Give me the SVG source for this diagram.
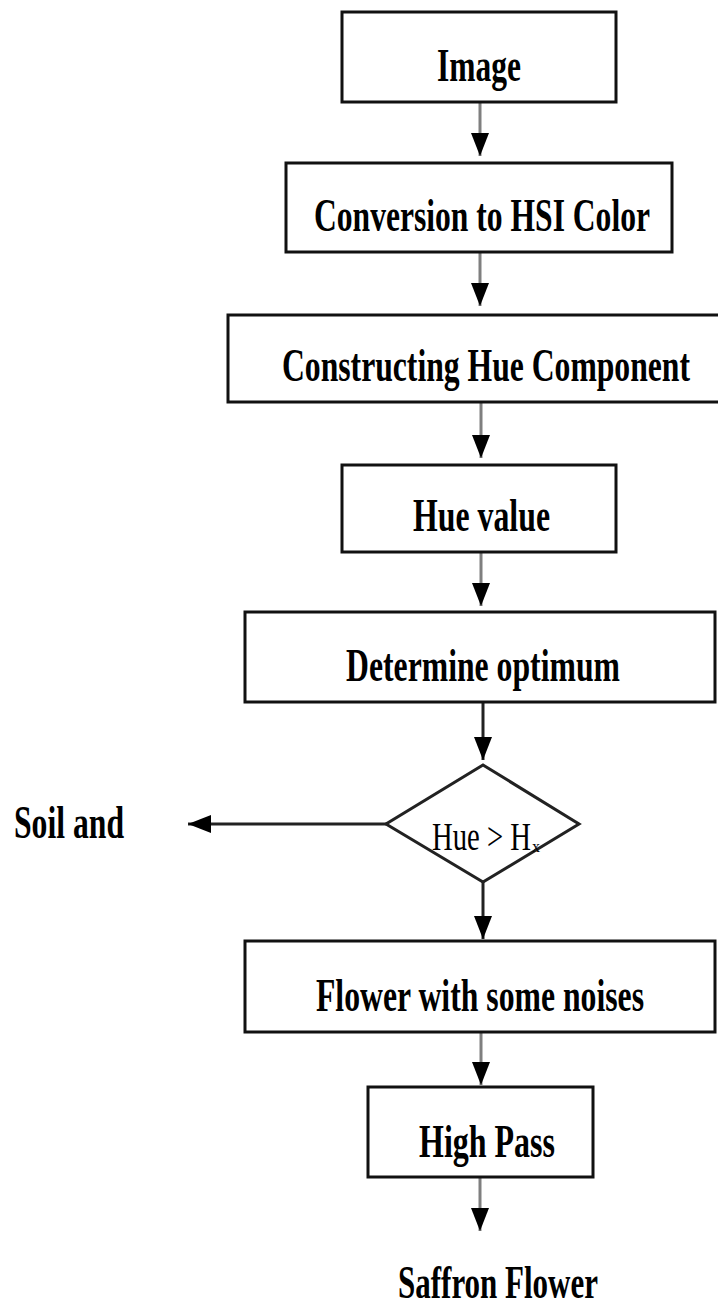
<svg xmlns="http://www.w3.org/2000/svg" width="718" height="1306" viewBox="0 0 718 1306">
<style>
.box{fill:#fff;stroke:#111;stroke-width:3}
.lbl{font-family:"Liberation Serif",serif;font-weight:bold;font-size:46px;fill:#000}
.dl{font-family:"Liberation Serif",serif;font-size:40px;fill:#000}
.c{fill:none;stroke:#7f7f7f;stroke-width:3}
.cb{fill:none;stroke:#222;stroke-width:3}
</style>
<defs>
<marker id="ah" markerUnits="userSpaceOnUse" markerWidth="24" markerHeight="20" refX="23" refY="9" orient="auto">
<path d="M0,0 L23,9 L0,18 z" fill="#000"/>
</marker>
</defs>
<rect width="718" height="1306" fill="#fff"/>
<g id="connectors">
<line class="c" x1="480" y1="102" x2="480" y2="156" marker-end="url(#ah)"/>
<line class="c" x1="480" y1="252" x2="480" y2="306" marker-end="url(#ah)"/>
<line class="c" x1="481" y1="402" x2="481" y2="458" marker-end="url(#ah)"/>
<line class="c" x1="481" y1="552" x2="481" y2="606" marker-end="url(#ah)"/>
<line class="cb" x1="483" y1="702" x2="483" y2="760" marker-end="url(#ah)"/>
<line class="cb" x1="483" y1="882" x2="483" y2="939" marker-end="url(#ah)"/>
<line class="c" x1="481" y1="1032" x2="481" y2="1085" marker-end="url(#ah)"/>
<line class="c" x1="480" y1="1178" x2="480" y2="1231" marker-end="url(#ah)"/>
<line class="cb" x1="386" y1="824" x2="188" y2="824" marker-end="url(#ah)"/>
</g>
<g id="n1"><rect class="box" x="342" y="12" width="274" height="90"/><text class="lbl" x="437" y="81" textLength="84" lengthAdjust="spacingAndGlyphs">Image</text></g>
<g id="n2"><rect class="box" x="286" y="163" width="386" height="89"/><text class="lbl" x="314" y="231" textLength="336" lengthAdjust="spacingAndGlyphs">Conversion to HSI Color</text></g>
<g id="n3"><rect class="box" x="228" y="315" width="496" height="87"/><text class="lbl" x="282" y="381" textLength="408" lengthAdjust="spacingAndGlyphs">Constructing Hue Component</text></g>
<g id="n4"><rect class="box" x="342" y="465" width="274" height="87"/><text class="lbl" x="413" y="531" textLength="137" lengthAdjust="spacingAndGlyphs">Hue value</text></g>
<g id="n5"><rect class="box" x="245" y="612" width="470" height="90"/><text class="lbl" x="346" y="681" textLength="274" lengthAdjust="spacingAndGlyphs">Determine optimum</text></g>
<g id="n6"><polygon points="483,765 579,824 483,882 386,824" fill="#fff" stroke="#222" stroke-width="3"/><text class="dl" x="432" y="850" textLength="99" lengthAdjust="spacingAndGlyphs">Hue &gt; H</text><text class="dl" x="532" y="852" font-size="16" style="font-size:16px">x</text></g>
<g id="n7"><text class="lbl" x="14" y="838" textLength="110" lengthAdjust="spacingAndGlyphs">Soil and</text></g>
<g id="n8"><rect class="box" x="245" y="941" width="470" height="91"/><text class="lbl" x="316" y="1011" textLength="328" lengthAdjust="spacingAndGlyphs">Flower with some noises</text></g>
<g id="n9"><rect class="box" x="368" y="1087" width="225" height="90"/><text class="lbl" x="419" y="1157" textLength="136" lengthAdjust="spacingAndGlyphs">High Pass</text></g>
<g id="n10"><text class="lbl" x="398" y="1298" textLength="200" lengthAdjust="spacingAndGlyphs">Saffron Flower</text></g>
</svg>
